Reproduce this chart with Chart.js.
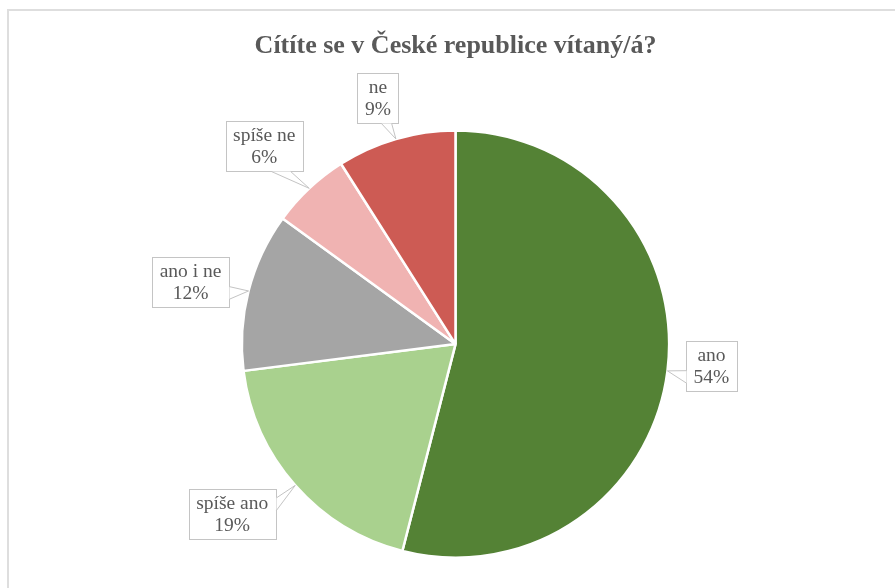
<!DOCTYPE html>
<html><head><meta charset="utf-8">
<script src="https://cdn.jsdelivr.net/npm/chart.js@4/dist/chart.umd.min.js"></script>
<style>html,body{margin:0;padding:0;background:#fff;}#wrap{width:895px;height:588px;position:relative;}</style>
</head><body><div id="wrap"><canvas id="c" width="895" height="588"></canvas></div>
<script>
const categories = ['ano', 'spíše ano', 'ano i ne', 'spíše ne', 'ne'];
const values = [54, 19, 12, 6, 9];
const sliceColors = ['#548235', '#a9d18e', '#a5a5a5', '#f0b3b2', '#cd5b54'];
const titleText = 'Cítíte se v České republice vítaný/á?';
// box-centre offsets of each callout from its slice's outer mid-point (layout)
const calloutOffsets = [[44, -5], [-63, 29], [-58, -9], [-45, -42], [-18, -41]];

const FONT = "'Liberation Serif', 'Times New Roman', serif";
const TEXT = '#595959';

const framePlugin = {
  id: 'frame',
  beforeDraw(chart) {
    const ctx = chart.ctx;
    ctx.save();
    ctx.fillStyle = '#ffffff';
    ctx.fillRect(0, 0, chart.width, chart.height);
    ctx.strokeStyle = '#dedede';
    ctx.lineWidth = 2;
    ctx.strokeRect(8, 10, chart.width + 20, chart.height + 20);
    ctx.restore();
  }
};

const calloutPlugin = {
  id: 'callouts',
  afterDatasetsDraw(chart) {
    const ctx = chart.ctx;
    const meta = chart.getDatasetMeta(0);
    const ds = chart.data.datasets[0].data;
    const total = ds.reduce((a, b) => a + b, 0);
    ctx.save();
    ctx.font = '19.5px ' + FONT;
    const lh = 21.5, padX = 7.5, h = 50;
    meta.data.forEach((arc, i) => {
      const p = arc.getProps(['x', 'y', 'startAngle', 'endAngle', 'outerRadius'], true);
      const mid = (p.startAngle + p.endAngle) / 2;
      const tx = p.x + Math.cos(mid) * p.outerRadius;
      const ty = p.y + Math.sin(mid) * p.outerRadius;
      const lines = [chart.data.labels[i], Math.round(ds[i] / total * 100) + '%'];
      const tw = Math.max(...lines.map(l => ctx.measureText(l).width));
      const w = Math.round(tw + 2 * padX);
      const cx = tx + calloutOffsets[i][0], cy = ty + calloutOffsets[i][1];
      const L = Math.round(cx - w / 2) + 0.5, T = Math.round(cy - h / 2) + 0.5;
      const R = L + w, B = T + h;
      const nx = (tx - cx) / (w / 2), ny = (ty - cy) / (h / 2);
      let b1, b2;
      if (Math.abs(ny) >= Math.abs(nx)) {
        const yb = ny > 0 ? B : T;
        const f = tx > cx ? [7 / 12, 10 / 12] : [2 / 12, 5 / 12];
        b1 = [L + w * f[0], yb]; b2 = [L + w * f[1], yb];
      } else {
        const xb = nx > 0 ? R : L;
        const f = ty > cy ? [7 / 12, 10 / 12] : [2 / 12, 5 / 12];
        b1 = [xb, T + h * f[0]]; b2 = [xb, T + h * f[1]];
      }
      ctx.fillStyle = '#ffffff';
      ctx.strokeStyle = '#c4c4c4';
      ctx.lineWidth = 1;
      ctx.fillRect(L, T, w, h);
      ctx.strokeRect(L, T, w, h);
      ctx.beginPath();
      ctx.moveTo(b1[0], b1[1]); ctx.lineTo(tx, ty); ctx.lineTo(b2[0], b2[1]); ctx.closePath();
      ctx.fill();
      ctx.beginPath();
      ctx.moveTo(b1[0], b1[1]); ctx.lineTo(tx, ty); ctx.lineTo(b2[0], b2[1]);
      ctx.stroke();
      ctx.fillStyle = TEXT;
      ctx.textAlign = 'center';
      ctx.textBaseline = 'middle';
      ctx.fillText(lines[0], cx, T + h / 2 - lh / 2 + 0.5);
      ctx.fillText(lines[1], cx, T + h / 2 + lh / 2 + 0.5);
    });
    ctx.restore();
  }
};

new Chart(document.getElementById('c'), {
  type: 'pie',
  data: {
    labels: categories,
    datasets: [{
      data: values,
      backgroundColor: sliceColors,
      borderColor: '#ffffff',
      borderWidth: 2.5
    }]
  },
  options: {
    responsive: false,
    animation: false,
    devicePixelRatio: 1,
    layout: { padding: { top: 0, bottom: 29, left: 16, right: 0 } },
    plugins: {
      legend: { display: false },
      tooltip: { enabled: false },
      title: {
        display: true,
        text: titleText,
        color: TEXT,
        font: { family: FONT, size: 26, weight: 'bold', lineHeight: 1.2 },
        padding: { top: 31, bottom: 67 }
      }
    }
  },
  plugins: [framePlugin, calloutPlugin]
});
</script>
</body></html>
